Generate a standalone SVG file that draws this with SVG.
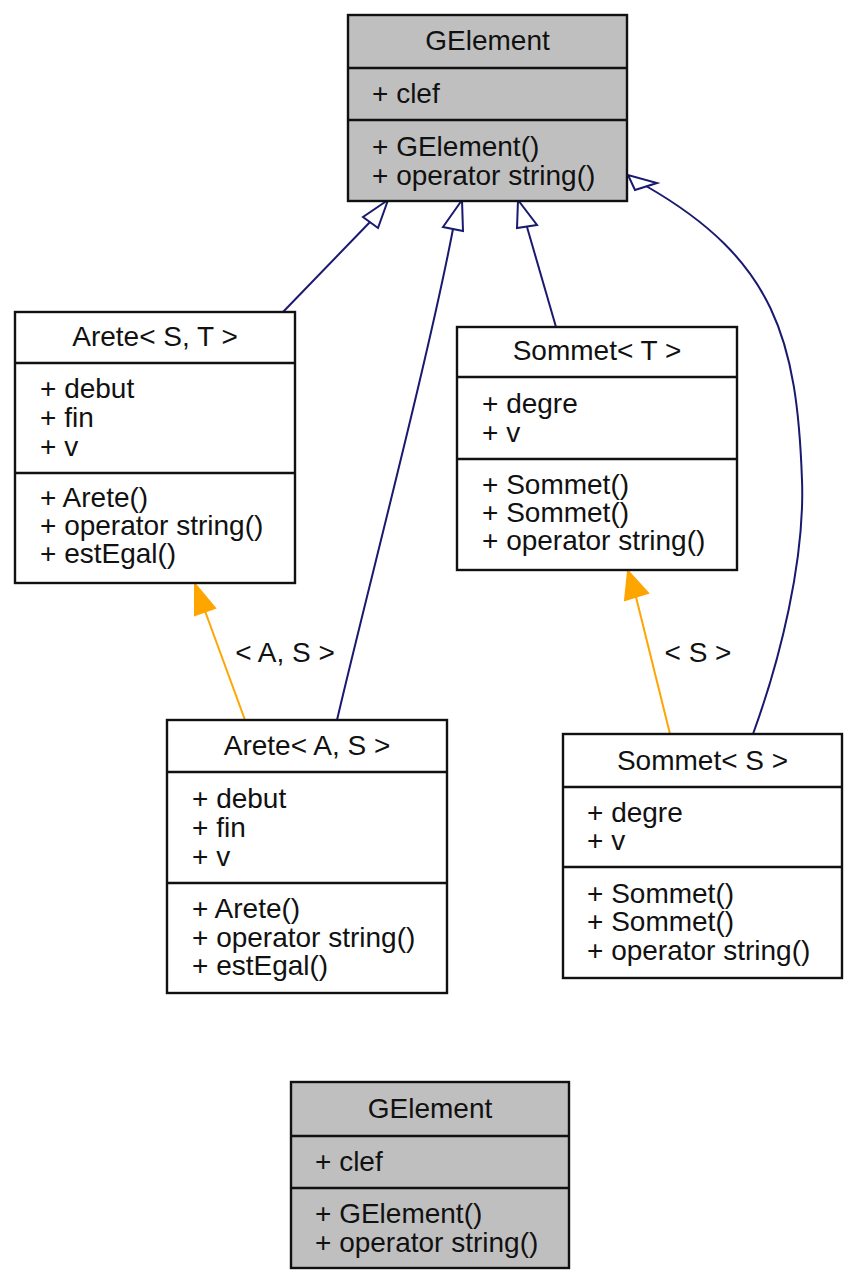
<svg xmlns="http://www.w3.org/2000/svg" width="860" height="1286" viewBox="0 0 860 1286">
<style>
text{font-family:"Liberation Sans",Arial,Helvetica,sans-serif;font-size:28px;fill:#111}
.t{text-anchor:middle}
.box{fill:#fff;stroke:#111;stroke-width:2.4}
.gbox{fill:#bfbfbf;stroke:#111;stroke-width:2.4}
.sep{stroke:#111;stroke-width:2.4}
.inh{fill:none;stroke:#191970;stroke-width:2}
.inhh{fill:#fff;stroke:#191970;stroke-width:2;stroke-linejoin:miter}
.tpl{fill:none;stroke:#ffa500;stroke-width:2}
.tplh{fill:#ffa500;stroke:#ffa500;stroke-width:2}
</style>
<rect width="860" height="1286" fill="#fff"/>
<g id="connectors">
<path class="inh" d="M283,312 L370,222"/>
<polygon class="inhh" points="388,200 363,217 378,228"/>
<path class="inh" d="M337,720 C365,600 428,360 453,229"/>
<polygon class="inhh" points="462,200 443,227 463,231"/>
<path class="inh" d="M556,327 L527,227"/>
<polygon class="inhh" points="518,200 517,228 537,225"/>
<path class="inh" d="M753,734 C780,660 805,560 802,480 C797,340 775,260 646,186"/>
<polygon class="inhh" points="628,175 635,190 657,183"/>
<path class="tpl" d="M245,720 L205,611"/>
<polygon class="tplh" points="195,584 195,615 215,608"/>
<text class="t" x="285" y="662">&lt; A, S &gt;</text>
<path class="tpl" d="M670,734 L636,597"/>
<polygon class="tplh" points="628,571 625,600 648,593"/>
<text class="t" x="698" y="662">&lt; S &gt;</text>
</g>
<g id="GElement">
<rect class="gbox" x="348" y="15" width="279" height="186"/>
<line class="sep" x1="348" y1="68" x2="627" y2="68"/>
<line class="sep" x1="348" y1="120" x2="627" y2="120"/>
<text class="t" x="487.5" y="50">GElement</text>
<text x="372" y="103">+ clef</text>
<text x="372" y="156">+ GElement()</text>
<text x="372" y="185">+ operator string()</text>
</g>
<g id="AreteST">
<rect class="box" x="15" y="312" width="280" height="271"/>
<line class="sep" x1="15" y1="363" x2="295" y2="363"/>
<line class="sep" x1="15" y1="473" x2="295" y2="473"/>
<text class="t" x="155" y="346">Arete&lt; S, T &gt;</text>
<text x="40" y="398">+ debut</text>
<text x="40" y="427">+ fin</text>
<text x="40" y="456">+ v</text>
<text x="40" y="507">+ Arete()</text>
<text x="40" y="535">+ operator string()</text>
<text x="40" y="563">+ estEgal()</text>
</g>
<g id="SommetT">
<rect class="box" x="457" y="327" width="280" height="243"/>
<line class="sep" x1="457" y1="377" x2="737" y2="377"/>
<line class="sep" x1="457" y1="459" x2="737" y2="459"/>
<text class="t" x="597" y="360">Sommet&lt; T &gt;</text>
<text x="482" y="413">+ degre</text>
<text x="482" y="442">+ v</text>
<text x="482" y="494">+ Sommet()</text>
<text x="482" y="522">+ Sommet()</text>
<text x="482" y="550">+ operator string()</text>
</g>
<g id="AreteAS">
<rect class="box" x="167" y="720" width="280" height="273"/>
<line class="sep" x1="167" y1="772" x2="447" y2="772"/>
<line class="sep" x1="167" y1="883" x2="447" y2="883"/>
<text class="t" x="307" y="755">Arete&lt; A, S &gt;</text>
<text x="192" y="808">+ debut</text>
<text x="192" y="837">+ fin</text>
<text x="192" y="866">+ v</text>
<text x="192" y="918">+ Arete()</text>
<text x="192" y="947">+ operator string()</text>
<text x="192" y="975">+ estEgal()</text>
</g>
<g id="SommetS">
<rect class="box" x="563" y="734" width="279" height="244"/>
<line class="sep" x1="563" y1="787" x2="842" y2="787"/>
<line class="sep" x1="563" y1="867" x2="842" y2="867"/>
<text class="t" x="702.5" y="770">Sommet&lt; S &gt;</text>
<text x="587" y="822">+ degre</text>
<text x="587" y="850">+ v</text>
<text x="587" y="903">+ Sommet()</text>
<text x="587" y="931">+ Sommet()</text>
<text x="587" y="960">+ operator string()</text>
</g>
<g id="GElementLegend">
<rect class="gbox" x="291" y="1082" width="278" height="186"/>
<line class="sep" x1="291" y1="1136" x2="569" y2="1136"/>
<line class="sep" x1="291" y1="1188" x2="569" y2="1188"/>
<text class="t" x="430" y="1118">GElement</text>
<text x="315" y="1171">+ clef</text>
<text x="315" y="1223">+ GElement()</text>
<text x="315" y="1252">+ operator string()</text>
</g>
</svg>
